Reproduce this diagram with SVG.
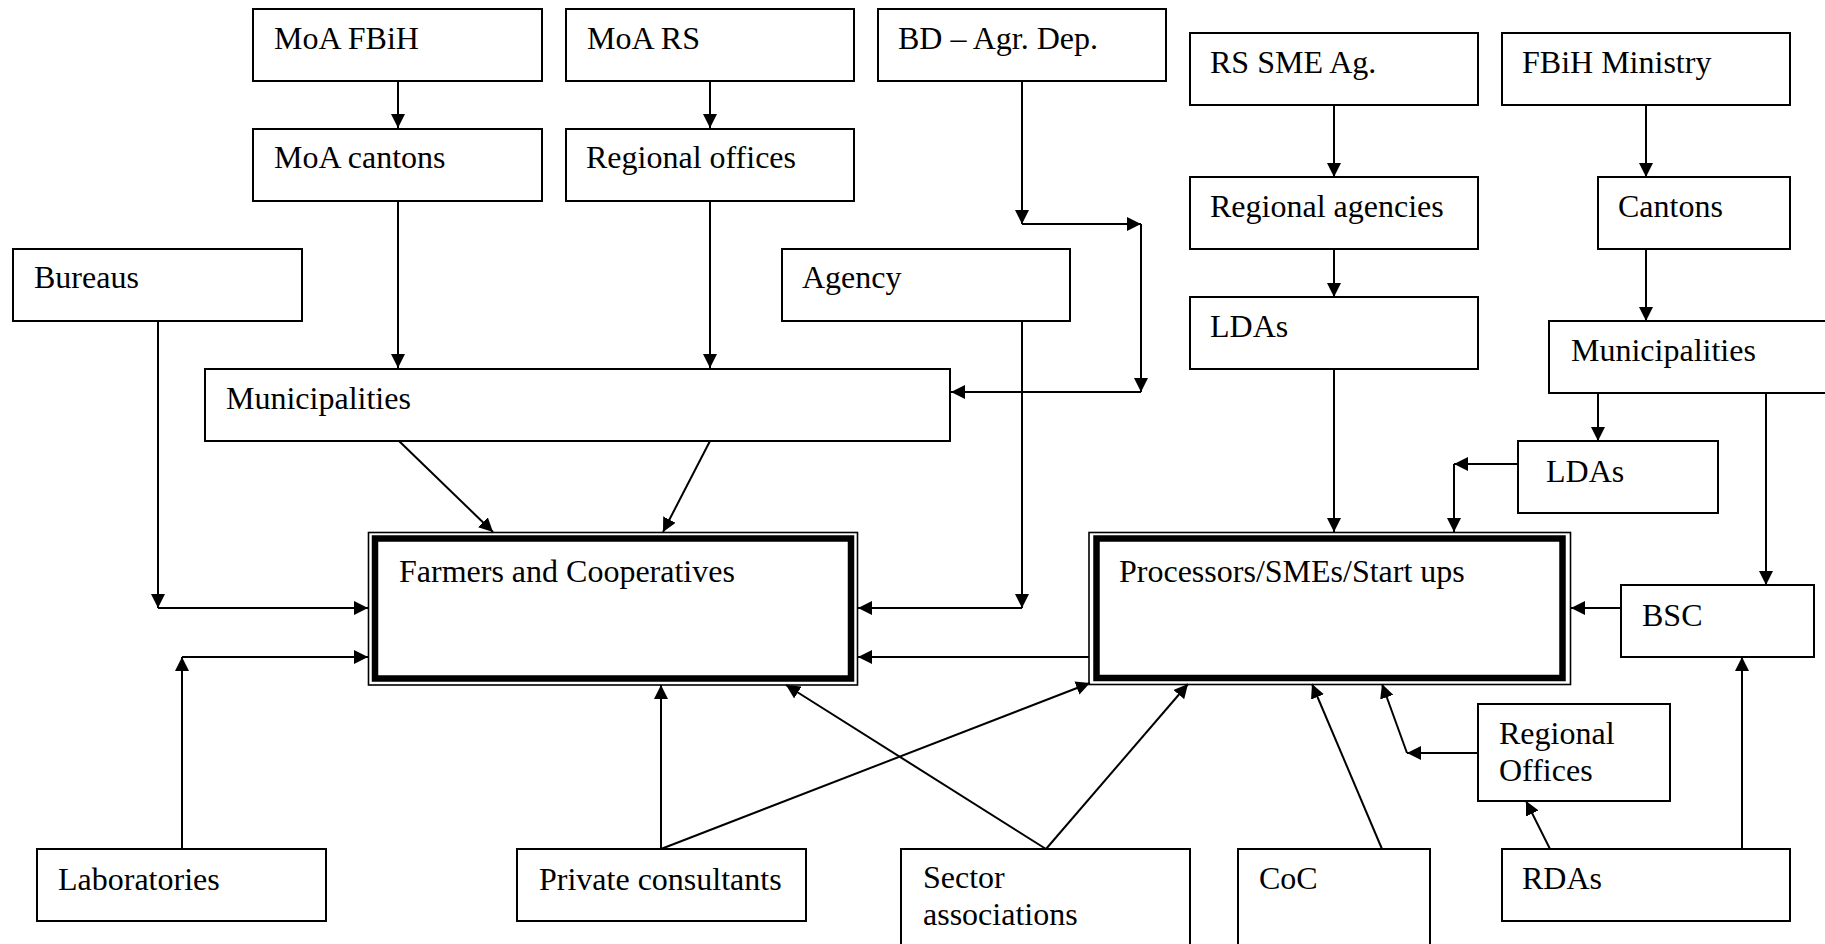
<svg xmlns="http://www.w3.org/2000/svg" width="1825" height="944" viewBox="0 0 1825 944">
  <style>
    .box { fill: #fff; stroke: #000; stroke-width: 2; }
    .thin { fill: none; stroke: #000; stroke-width: 1.6; }
    .thick { fill: none; stroke: #000; stroke-width: 6.5; }
    .lbl { font-family: "Liberation Serif", "Times New Roman", serif; font-size: 32px; fill: #000; }
    .c { fill: none; stroke: #000; stroke-width: 2; }
    .a { marker-end: url(#ah); }
  </style>
  <defs>
    <marker id="ah" viewBox="0 0 14 14" refX="14" refY="7" markerWidth="14" markerHeight="14" markerUnits="userSpaceOnUse" orient="auto">
      <path d="M0,0 L14,7 L0,14 z" fill="#000"/>
    </marker>
  </defs>
  <rect width="1825" height="944" fill="#fff"/>

  <!-- connectors -->
  <g id="connectors">
    <line class="c a" x1="398" y1="81" x2="398" y2="128"/>
    <line class="c a" x1="710" y1="81" x2="710" y2="128"/>
    <line class="c a" x1="398" y1="201" x2="398" y2="368"/>
    <line class="c a" x1="710" y1="201" x2="710" y2="368"/>
    <!-- BD Agr. Dep. route -->
    <line class="c a" x1="1022" y1="81" x2="1022" y2="224"/>
    <line class="c a" x1="1022" y1="224" x2="1141" y2="224"/>
    <line class="c a" x1="1141" y1="224" x2="1141" y2="392"/>
    <line class="c a" x1="1141" y1="392" x2="951" y2="392"/>
    <!-- Agency -->
    <line class="c a" x1="1022" y1="321" x2="1022" y2="608"/>
    <line class="c a" x1="1022" y1="608" x2="858" y2="608"/>
    <!-- Bureaus -->
    <line class="c a" x1="158" y1="321" x2="158" y2="608"/>
    <line class="c a" x1="158" y1="608" x2="368" y2="608"/>
    <!-- Laboratories -->
    <line class="c a" x1="182" y1="849" x2="182" y2="657"/>
    <line class="c a" x1="182" y1="657" x2="368" y2="657"/>
    <!-- Municipalities to Farmers -->
    <line class="c a" x1="399" y1="441" x2="493" y2="532"/>
    <line class="c a" x1="710" y1="441" x2="663" y2="532"/>
    <!-- Processors to Farmers -->
    <line class="c a" x1="1089" y1="657" x2="858" y2="657"/>
    <!-- Private consultants -->
    <line class="c a" x1="661" y1="849" x2="661" y2="685"/>
    <line class="c a" x1="661" y1="849" x2="1090" y2="683"/>
    <!-- Sector associations -->
    <line class="c a" x1="1046" y1="849" x2="786" y2="685"/>
    <line class="c a" x1="1046" y1="849" x2="1188" y2="684"/>
    <!-- RS SME chain -->
    <line class="c a" x1="1334" y1="105" x2="1334" y2="177"/>
    <line class="c a" x1="1334" y1="249" x2="1334" y2="297"/>
    <line class="c a" x1="1334" y1="369" x2="1334" y2="532"/>
    <!-- FBiH Ministry chain -->
    <line class="c a" x1="1646" y1="105" x2="1646" y2="177"/>
    <line class="c a" x1="1646" y1="249" x2="1646" y2="321"/>
    <line class="c a" x1="1598" y1="393" x2="1598" y2="441"/>
    <line class="c a" x1="1766" y1="393" x2="1766" y2="585"/>
    <!-- LDAs to Processors -->
    <line class="c a" x1="1518" y1="464" x2="1454" y2="464"/>
    <line class="c a" x1="1454" y1="464" x2="1454" y2="532"/>
    <!-- BSC to Processors -->
    <line class="c a" x1="1621" y1="608" x2="1571" y2="608"/>
    <!-- RDAs -->
    <line class="c a" x1="1742" y1="849" x2="1742" y2="657"/>
    <line class="c a" x1="1550" y1="849" x2="1526" y2="801"/>
    <!-- Regional Offices to Processors -->
    <line class="c a" x1="1478" y1="753" x2="1407" y2="753"/>
    <line class="c a" x1="1407" y1="753" x2="1382" y2="684"/>
    <!-- CoC -->
    <line class="c a" x1="1382" y1="849" x2="1312" y2="684"/>
  </g>

  <!-- nodes -->
  <g id="moa-fbih"><rect class="box" x="253" y="9" width="289" height="72"/><text class="lbl" x="274" y="49">MoA FBiH</text></g>
  <g id="moa-rs"><rect class="box" x="566" y="9" width="288" height="72"/><text class="lbl" x="587" y="49">MoA RS</text></g>
  <g id="bd-agr"><rect class="box" x="878" y="9" width="288" height="72"/><text class="lbl" x="898" y="49">BD – Agr. Dep.</text></g>
  <g id="moa-cantons"><rect class="box" x="253" y="129" width="289" height="72"/><text class="lbl" x="274" y="168">MoA cantons</text></g>
  <g id="regional-offices-rs"><rect class="box" x="566" y="129" width="288" height="72"/><text class="lbl" x="586" y="168">Regional offices</text></g>
  <g id="bureaus"><rect class="box" x="13" y="249" width="289" height="72"/><text class="lbl" x="34" y="288">Bureaus</text></g>
  <g id="agency"><rect class="box" x="782" y="249" width="288" height="72"/><text class="lbl" x="802" y="288">Agency</text></g>
  <g id="municipalities-left"><rect class="box" x="205" y="369" width="745" height="72"/><text class="lbl" x="226" y="409">Municipalities</text></g>

  <g id="rs-sme"><rect class="box" x="1190" y="33" width="288" height="72"/><text class="lbl" x="1210" y="73">RS SME Ag.</text></g>
  <g id="regional-agencies"><rect class="box" x="1190" y="177" width="288" height="72"/><text class="lbl" x="1210" y="217">Regional agencies</text></g>
  <g id="ldas-rs"><rect class="box" x="1190" y="297" width="288" height="72"/><text class="lbl" x="1210" y="337">LDAs</text></g>
  <g id="fbih-ministry"><rect class="box" x="1502" y="33" width="288" height="72"/><text class="lbl" x="1522" y="73">FBiH Ministry</text></g>
  <g id="cantons"><rect class="box" x="1598" y="177" width="192" height="72"/><text class="lbl" x="1618" y="217">Cantons</text></g>
  <g id="municipalities-right"><rect class="box" x="1549" y="321" width="300" height="72"/><text class="lbl" x="1571" y="361">Municipalities</text></g>
  <g id="ldas-fbih"><rect class="box" x="1518" y="441" width="200" height="72"/><text class="lbl" x="1546" y="482">LDAs</text></g>
  <g id="bsc"><rect class="box" x="1621" y="585" width="193" height="72"/><text class="lbl" x="1642" y="626">BSC</text></g>

  <g id="farmers">
    <rect class="thin" x="368.5" y="532.5" width="489" height="152.5"/>
    <rect class="thick" x="375" y="538.5" width="476" height="140"/>
    <text class="lbl" x="399" y="582">Farmers and Cooperatives</text>
  </g>
  <g id="processors">
    <rect class="thin" x="1089" y="532.5" width="481.5" height="152"/>
    <rect class="thick" x="1096.5" y="538.5" width="466" height="139.5"/>
    <text class="lbl" x="1119" y="582">Processors/SMEs/Start ups</text>
  </g>

  <g id="regional-offices"><rect class="box" x="1478" y="704" width="192" height="97"/><text class="lbl" x="1499" y="744">Regional</text><text class="lbl" x="1499" y="781">Offices</text></g>

  <g id="laboratories"><rect class="box" x="37" y="849" width="289" height="72"/><text class="lbl" x="58" y="890">Laboratories</text></g>
  <g id="private-consultants"><rect class="box" x="517" y="849" width="289" height="72"/><text class="lbl" x="539" y="890">Private consultants</text></g>
  <g id="sector-associations"><rect class="box" x="901" y="849" width="289" height="110"/><text class="lbl" x="923" y="888">Sector</text><text class="lbl" x="923" y="925">associations</text></g>
  <g id="coc"><rect class="box" x="1238" y="849" width="192" height="110"/><text class="lbl" x="1259" y="889">CoC</text></g>
  <g id="rdas"><rect class="box" x="1502" y="849" width="288" height="72"/><text class="lbl" x="1522" y="889">RDAs</text></g>
</svg>
